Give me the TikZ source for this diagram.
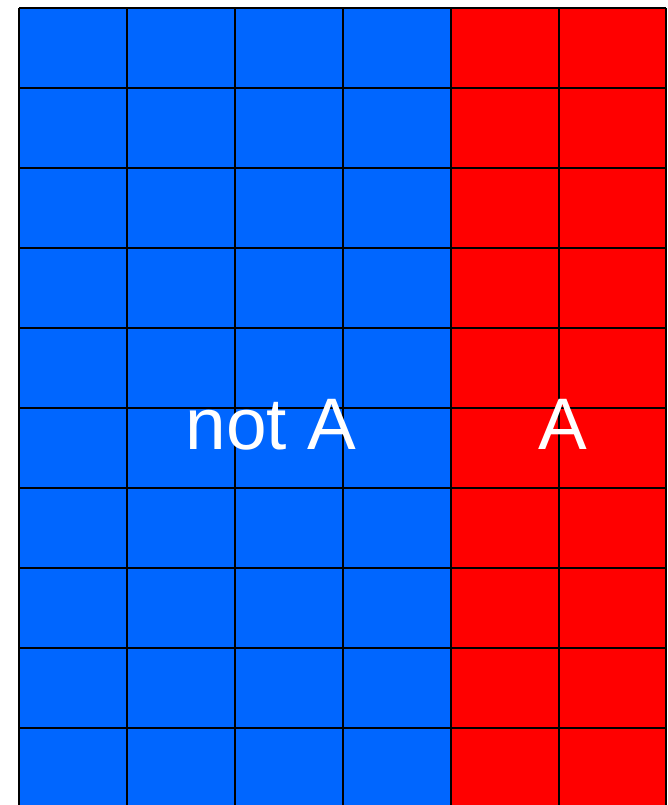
\documentclass[tikz,border=0pt]{standalone}
\usepackage{fontspec}
\setmainfont{Liberation Sans}
\definecolor{gblue}{HTML}{0066FF}
\definecolor{gred}{HTML}{FF0000}
\begin{document}
\begin{tikzpicture}[x=1pt,y=-1pt,
  gridline/.style={draw=black,line width=2pt},
  label/.style={text=white,font=\fontsize{73}{73}\selectfont,inner sep=0pt,anchor=base}]
\useasboundingbox (0,0) rectangle (667,805);
\clip (0,0) rectangle (667,805);
\fill[gblue] (19,8) rectangle (451,808);
\fill[gred] (451,8) rectangle (666,808);
\foreach \x in {19,127,235,343,451,559,666}
  \draw[gridline] (\x,8) -- (\x,808);
\foreach \y in {8,88,168,248,328,408,488,568,648,728,808}
  \draw[gridline] (19,\y) -- (666,\y);
\node[label] (notA) at (271,449) {not A};
\node[label] (A) at (563,449) {A};
\end{tikzpicture}
\end{document}
